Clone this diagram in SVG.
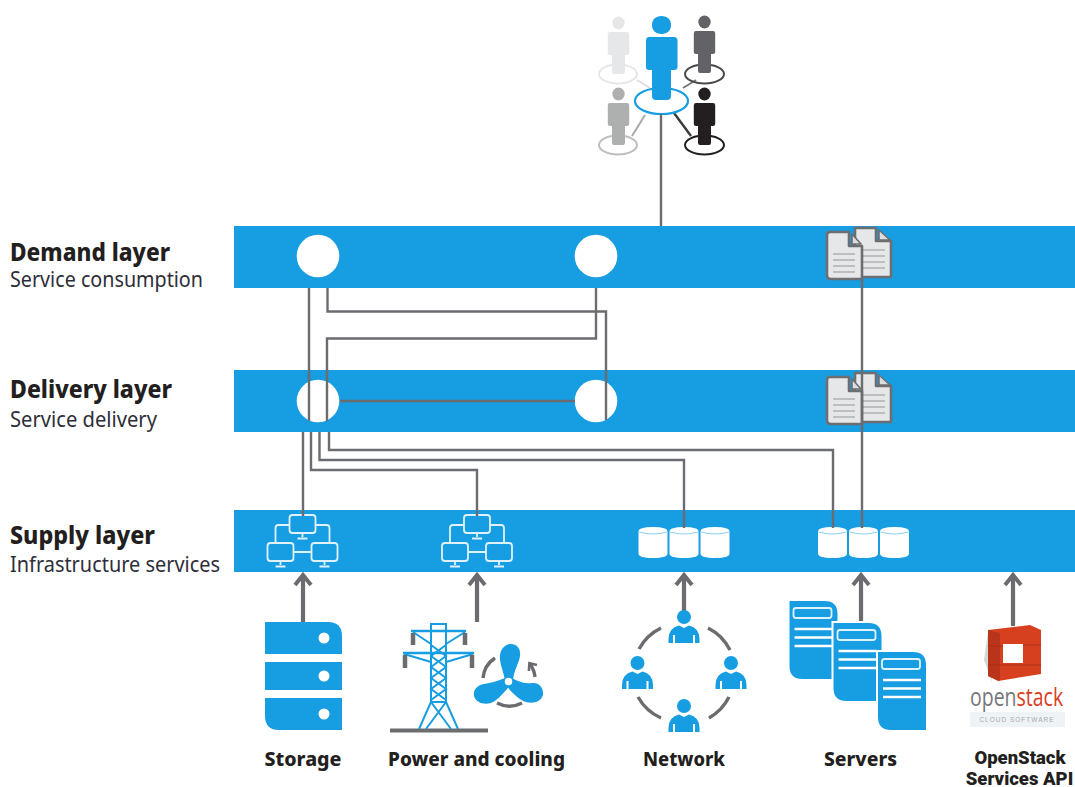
<svg xmlns="http://www.w3.org/2000/svg" width="1075" height="787" viewBox="0 0 1075 787">
<style>
.bar{fill:#179de2}
.blue{fill:#179de2}
.wc{fill:#fff}
.conn{fill:none;stroke:#6a6c70;stroke-width:2.4}
.arr{fill:none;stroke:#6a6c70;stroke-width:4.2}
.arc{fill:none;stroke:#6a6c70;stroke-width:3.4}
.h{font-family:"Noto Sans","Open Sans",sans-serif;font-weight:800;font-size:24px;fill:#231f20}
.s{font-family:"Noto Sans","Open Sans",sans-serif;font-size:21px;fill:#2e2e38}
.l{font-family:"Noto Sans","Open Sans",sans-serif;font-weight:800;font-size:20px;fill:#231f20;text-anchor:middle}
.r{font-family:Roboto,"Noto Sans",sans-serif;font-weight:900;font-size:18.5px;fill:#231f20;text-anchor:middle}
.scr{fill:none;stroke:#dff2fc;stroke-width:1.8}
.doc{fill:#e6e7e8;stroke:#6d6e71;stroke-width:2.6;stroke-linejoin:round}
.fold{fill:#dcdddf;stroke:#6d6e71;stroke-width:1.6;stroke-linejoin:round}
.dl{stroke:#bcbec0;stroke-width:2}
</style>
<defs>
<marker id="ah" markerUnits="userSpaceOnUse" markerWidth="20" markerHeight="24" refX="9" refY="12" orient="auto" viewBox="0 0 20 24">
<path d="M2 4L12 12L2 20" fill="none" stroke="#6a6c70" stroke-width="4"/>
</marker>
<marker id="ah2" markerUnits="userSpaceOnUse" markerWidth="14" markerHeight="14" refX="8" refY="7" orient="auto" viewBox="0 0 14 14">
<path d="M3 2L9 7L3 12" fill="none" stroke="#6a6c70" stroke-width="2.6"/>
</marker>
<g id="person">
<ellipse cx="0" cy="0" rx="6.2" ry="6.4"/>
<path d="M-8.5 9H8.5Q10.7 9 10.7 11.2V30Q10.7 32 8.5 32H6.5V49Q6.5 51 4.5 51H-4.5Q-6.5 51 -6.5 49V32H-8.5Q-10.7 32 -10.7 30V11.2Q-10.7 9 -8.5 9Z"/>
</g>
<g id="netp">
<circle cx="0" cy="0" r="7"/>
<path d="M-15.5 26V22Q-15.5 11 -5 8.5L0 11L5 8.5Q15.5 11 15.5 22V26H11V18H9V26H-9V18H-11V26Z"/>
</g>
<g id="mon"><rect x="-13" y="-9" width="26" height="18" rx="3" class="scr"/><path d="M0 9V13M-5 14.5H5" class="scr"/></g>
<g id="nettree">
<use href="#mon" x="0" y="0"/>
<use href="#mon" x="-22" y="28"/>
<use href="#mon" x="22" y="28"/>
<path d="M-13 1H-24Q-27 1 -27 4V19M13 1H24Q27 1 27 4V19M-9 28H9" class="scr"/>
</g>
<g id="cyl">
<path d="M0 4.5Q0 0 14.500 0Q29 0 29 4.5V26.500Q29 31 14.500 31Q0 31 0 26.500Z" class="wc"/>
<path d="M0.500 5Q14.500 9 28.500 5" fill="none" stroke="#8fd0f1" stroke-width="1.2"/>
</g>
<g id="cyls">
<use href="#cyl" x="0" y="0"/><use href="#cyl" x="31" y="0"/><use href="#cyl" x="62" y="0"/>
</g>
<g id="docs">
<path class="doc" d="M855 228H876V241H891V277H855Z"/>
<path class="fold" d="M879 230L890 240H879Z"/>
<path class="dl" d="M863 250H885M863 256H885M863 262H885M863 268H885"/>
<path class="doc" d="M830 232H849V246H862V279H831Q827 279 827 275V235Q827 232 830 232Z"/>
<path class="fold" d="M852 234L861 244H852Z"/>
<path class="dl" d="M833 254H855M833 260H855M833 266H855M833 272H855"/>
</g>
<g id="srv">
<path d="M0 0H36Q50 0 50 14V80H14Q0 80 0 66Z" class="blue" stroke="#fff" stroke-width="2"/>
<rect x="5" y="8" width="38" height="10" rx="2.500" fill="none" stroke="#dff2fc" stroke-width="1.800"/>
<path d="M6 29H44M6 37.500H44M6 46H44" stroke="#fff" stroke-width="2.400"/>
</g>
</defs>

<g id="demand-layer">
<rect class="bar" x="234" y="226" width="841" height="62"/>
<text class="h" x="10" y="261" textLength="160" lengthAdjust="spacingAndGlyphs">Demand layer</text>
<text class="s" x="10" y="287" textLength="193" lengthAdjust="spacingAndGlyphs">Service consumption</text>
</g>
<g id="delivery-layer">
<rect class="bar" x="234" y="370" width="841" height="62"/>
<text class="h" x="10" y="398" textLength="162" lengthAdjust="spacingAndGlyphs">Delivery layer</text>
<text class="s" x="10" y="427" textLength="147" lengthAdjust="spacingAndGlyphs">Service delivery</text>
</g>
<g id="supply-layer">
<rect class="bar" x="234" y="510" width="841" height="62"/>
<text class="h" x="10" y="544" textLength="145" lengthAdjust="spacingAndGlyphs">Supply layer</text>
<text class="s" x="10" y="572" textLength="210" lengthAdjust="spacingAndGlyphs">Infrastructure services</text>
</g>

<g id="users">
<g fill="none" stroke-width="2">
<path d="M637 80L650 88" stroke="#dcddde"/>
<path d="M683 88L696 80" stroke="#77787b"/>
<path d="M645 115L632 136" stroke="#a7a9ac"/>
<path d="M674 113L691 136" stroke="#3a3a3d" stroke-width="2.400"/>
<ellipse cx="618" cy="74" rx="19" ry="9.500" stroke="#e6e7e8"/>
<ellipse cx="704.500" cy="74" rx="19.500" ry="9.500" stroke="#4a4a4d"/>
<ellipse cx="618" cy="145" rx="19" ry="9.500" stroke="#bcbec0"/>
<ellipse cx="704.500" cy="145" rx="19.500" ry="9.500" stroke="#231f20"/>
</g>
<use href="#person" x="618.500" y="23" fill="#e6e7e8"/>
<use href="#person" x="704.500" y="22" fill="#626366"/>
<use href="#person" x="618.500" y="94" fill="#adb0af"/>
<use href="#person" x="704.500" y="94" fill="#231f20"/>
<ellipse cx="661.500" cy="101" rx="26.500" ry="13" fill="#fff" stroke="#179de2" stroke-width="2.200"/>
<g class="blue">
<path d="M661.500 16c6 0 9.500 3.500 9.500 9c0 5.500 -3.500 9 -9.500 9c-6 0 -9.500 -3.500 -9.500 -9c0 -5.500 3.500 -9 9.500 -9Z"/>
<path d="M649 37H674Q677.500 37 677.500 40.500V67Q677.500 70 674 70H671V96Q671 100 667 100H656Q652 100 652 96V70H649Q646 70 646 67V40.500Q646 37 649 37Z"/>
</g>
</g>

<g id="demand-nodes"><circle class="wc" cx="318" cy="256" r="21.300"/><circle class="wc" cx="596" cy="256" r="21.300"/></g>
<g id="delivery-nodes"><circle class="wc" cx="318" cy="401" r="21.300"/><circle class="wc" cx="596" cy="401" r="21.300"/></g>
<g id="doc-demand"><use href="#docs"/></g>
<g id="doc-delivery"><use href="#docs" y="145"/></g>

<g id="net-a"><use href="#nettree" x="302.500" y="524"/></g>
<g id="net-b"><use href="#nettree" x="477" y="524"/></g>
<g id="store-a"><use href="#cyls" x="638.500" y="527"/></g>
<g id="store-b"><use href="#cyls" x="818" y="527"/></g>

<g id="connectors">
<path class="conn" d="M661 114V226"/>
<path class="conn" d="M309 288V421"/>
<path class="conn" d="M327.500 288V311.500H606V420"/>
<path class="conn" d="M596 288V338.500H327V421"/>
<path class="conn" d="M340 401H575"/>
<path class="conn" d="M303 432V516"/>
<path class="conn" d="M311 432V470H477V516"/>
<path class="conn" d="M319.500 432V460H684V528"/>
<path class="conn" d="M329 432V450H833V528"/>
<path class="conn" d="M862 279V528"/>
<path class="arr" marker-end="url(#ah)" d="M303 622V578"/>
<path class="arr" marker-end="url(#ah)" d="M477 622V578"/>
<path class="arr" marker-end="url(#ah)" d="M684 612V578"/>
<path class="arr" marker-end="url(#ah)" d="M861 622V578"/>
<path class="arr" marker-end="url(#ah)" d="M1013 626V578"/>
</g>

<g id="storage">
<path class="blue" d="M265 622H328Q342 622 342 636V654H265Z"/>
<rect class="blue" x="265" y="662" width="77" height="28"/>
<path class="blue" d="M265 698H342V730H279Q265 730 265 716Z"/>
<circle class="wc" cx="324" cy="638" r="5.500"/><circle class="wc" cx="324" cy="676" r="5.500"/><circle class="wc" cx="324" cy="714" r="5.500"/>
<text class="l" x="303" y="766" textLength="77" lengthAdjust="spacingAndGlyphs">Storage</text>
</g>

<g id="power">
<path d="M390 730.500H488" stroke="#6a6c70" stroke-width="4" fill="none"/>
<g fill="none" stroke="#179de2" stroke-width="2">
<path d="M431 631V624H446V631"/>
<path stroke-width="2.600" d="M411 631H466M403 653H474"/>
<path d="M413 632L431 644M465 632L446 644M404 654L431 662M473 654L446 662"/>
<path d="M431 631V702L419 729M446 631V702L458 729"/>
<path d="M431 645L446 656L431 667L446 678L431 689L446 700M446 645L431 656L446 667L431 678L446 689L431 700"/>
<path d="M431 702L451 729M446 702L426 729M431 702H446"/>
</g>
<path d="M413 633V645M465 633V645M405 655V668M472 655V668" stroke="#6a6c70" stroke-width="4.500"/>
<g class="blue">
<path d="M505 680C503 670 499 662 500 655C501 648 506 644 511 644C517 644 521 649 520 656C519 663 514 670 513 680Z"/>
<path d="M505 678C498 681 491 683 484 684C477 685 473 690 474 696C476 703 484 705 491 703C498 700 504 692 510 686Z"/>
<path d="M512 678C519 682 525 684 532 683C539 682 544 688 543 695C541 702 533 704 526 702C518 699 511 692 507 686Z"/>
</g>
<circle cx="508.500" cy="681.500" r="4.500" class="wc" stroke="#179de2" stroke-width="1.500"/>
<path class="arc" d="M495 658A27 27 0 0 0 483 678M497 703A27 27 0 0 0 522 703"/>
<path class="arc" stroke-width="3" d="M535 677A27 27 0 0 0 530 664" marker-end="url(#ah2)"/>
<text class="l" x="476.500" y="766" textLength="177" lengthAdjust="spacingAndGlyphs">Power and cooling</text>
</g>

<g id="network">
<path class="arc" d="M661 628A50 50 0 0 0 639 649M708 628A50 50 0 0 1 730 650M638 697A50 50 0 0 0 661 718M729 697A50 50 0 0 1 709 718"/>
<use href="#netp" x="684" y="617" class="blue"/>
<use href="#netp" x="637.500" y="663" class="blue"/>
<use href="#netp" x="731" y="663" class="blue"/>
<use href="#netp" x="684" y="706" class="blue"/>
<text class="l" x="684" y="766" textLength="82" lengthAdjust="spacingAndGlyphs">Network</text>
</g>

<g id="servers">
<use href="#srv" x="788.500" y="600"/>
<use href="#srv" x="832.500" y="622"/>
<use href="#srv" x="877" y="651"/>
<text class="l" x="860.500" y="766" textLength="73" lengthAdjust="spacingAndGlyphs">Servers</text>
</g>

<g id="openstack">
<path d="M984 660L988 632L992 682Z" fill="#b9babc" opacity="0.6"/>
<path d="M988 630L1030 625L1041 630V674L998 681L988 676Z" fill="#d7401f"/>
<path d="M988 630L1000 633V681L988 676Z" fill="#b8341a"/>
<path d="M1003 644H1023V663H1003Z" fill="#fff"/>
<path d="M988 646H1003M988 665H1041M1023 645H1041" stroke="#a92e14" stroke-width="1" fill="none"/>
<rect x="970" y="712" width="95" height="15" fill="#eef4f6"/>
<text transform="translate(970 706) scale(0.78 1)" font-family="'Open Sans','Noto Sans',sans-serif" font-size="25"><tspan fill="#77787b">open</tspan><tspan fill="#d7401f">stack</tspan></text>
<text x="1017" y="722" font-family="'Liberation Sans',sans-serif" font-size="6.500" letter-spacing="1" fill="#a7a9ac" text-anchor="middle">CLOUD SOFTWARE</text>
<text class="r" x="1020" y="764">OpenStack</text>
<text class="r" x="1019.500" y="785">Services API</text>
</g>
</svg>
